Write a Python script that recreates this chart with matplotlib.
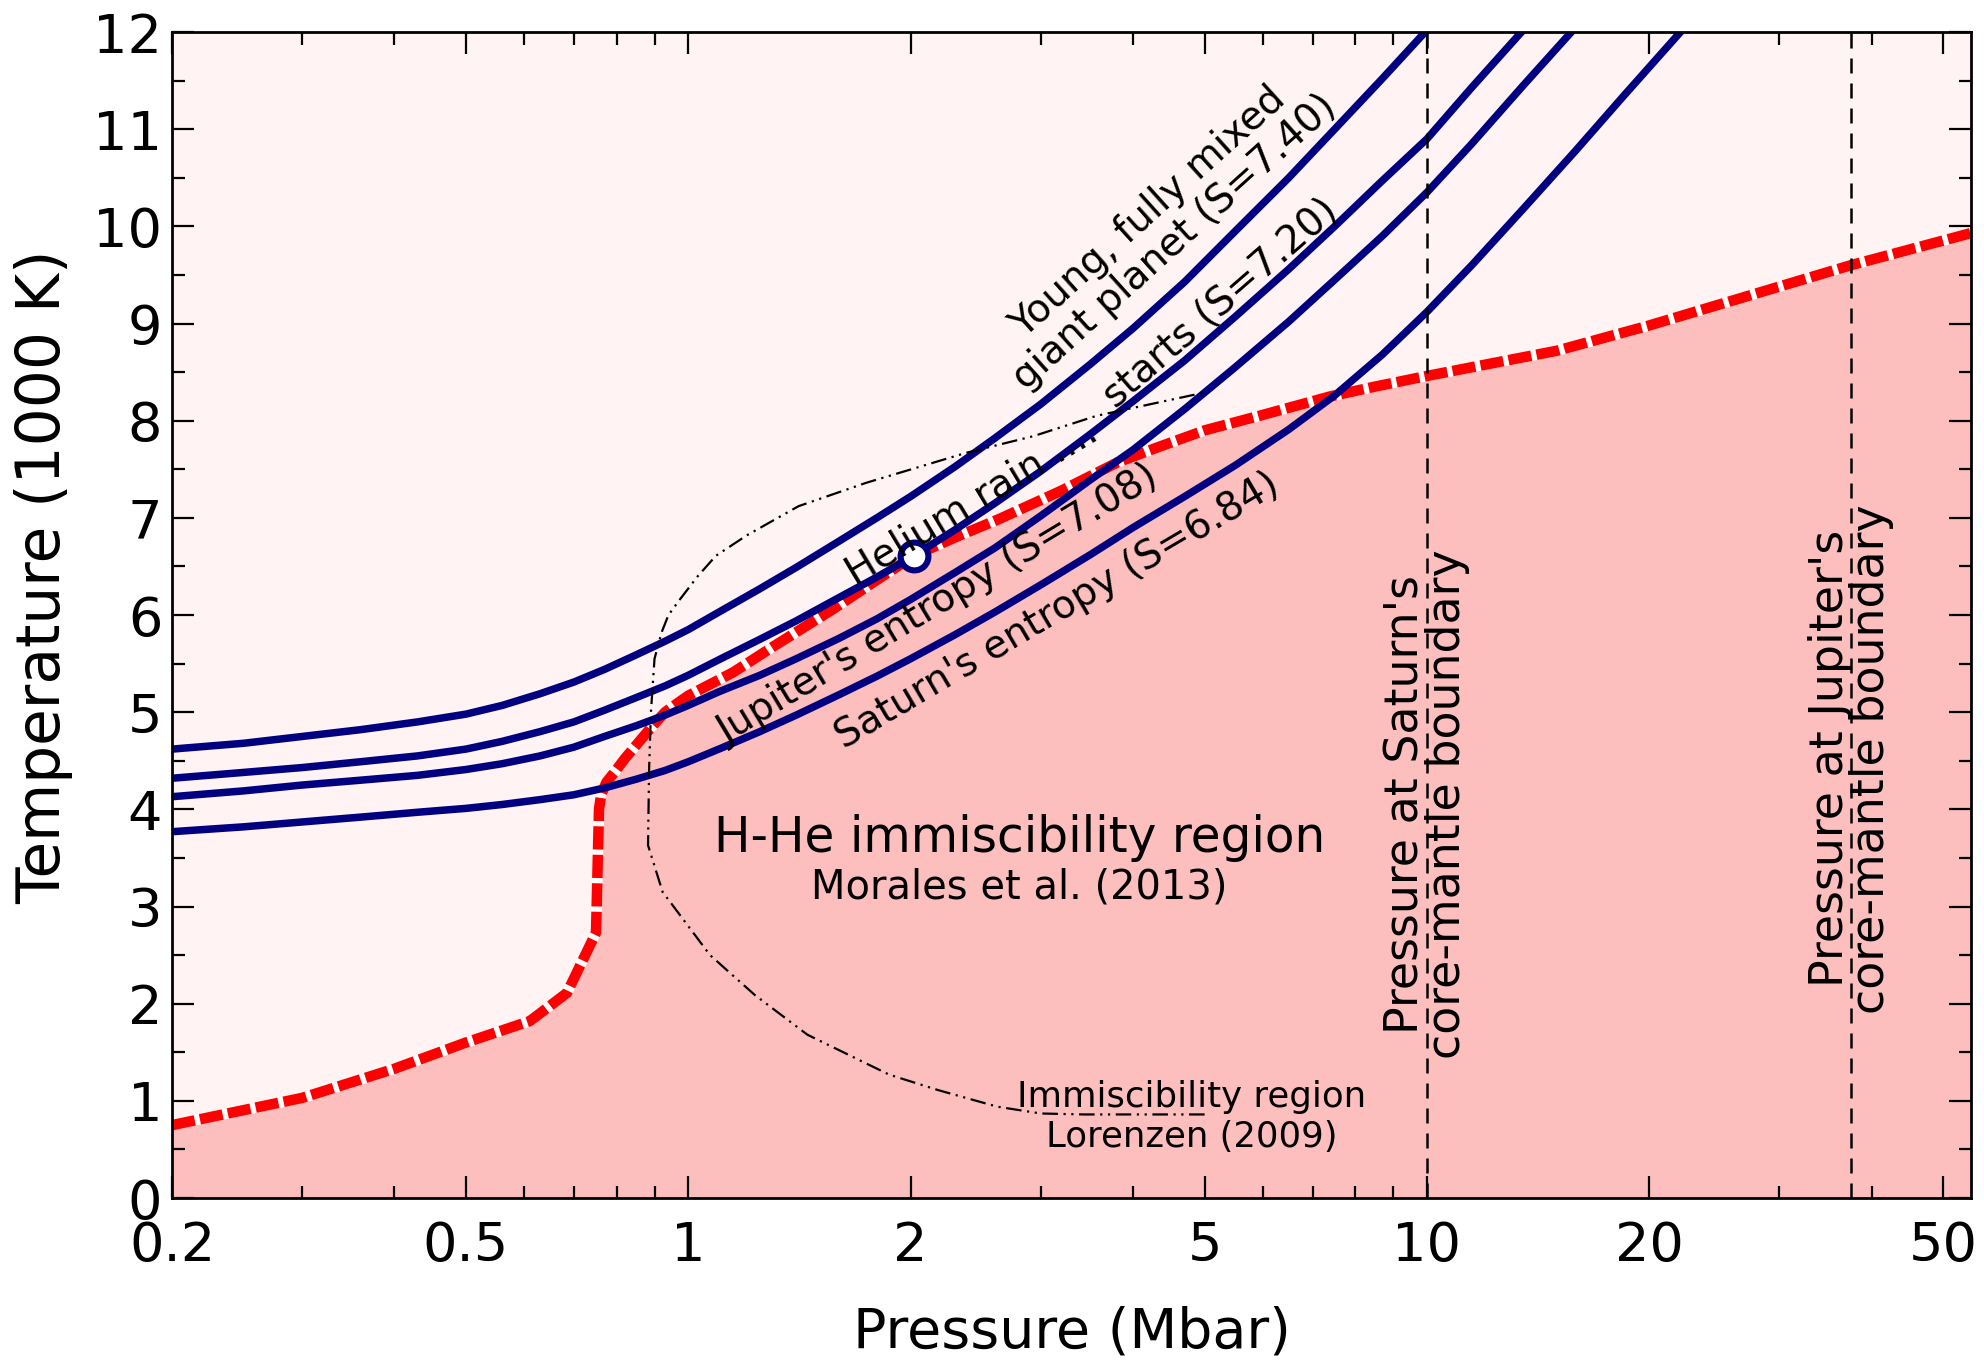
import matplotlib
matplotlib.use("Agg")
import matplotlib.pyplot as plt
from matplotlib.ticker import FixedLocator, FixedFormatter, MultipleLocator, NullFormatter

# H-He immiscibility boundary, Morales et al. (2013)  (P in Mbar, T in 1000 K)
morales_p = [0.2, 0.3, 0.4, 0.5, 0.61, 0.685, 0.75, 0.757, 0.762, 0.775, 0.798, 0.82, 0.85,
             0.89, 0.93, 0.97, 1.0, 1.15, 1.3, 1.57, 1.8, 2.02, 2.3, 2.64, 3.2, 3.81, 4.3,
             5.0, 6.0, 7.4, 8.5, 10.0, 15.0, 20.0, 37.5, 54.5]
morales_t = [0.75, 1.03, 1.33, 1.6, 1.82, 2.11, 2.73, 4.0, 4.15, 4.28, 4.40, 4.52, 4.66,
             4.84, 5.0, 5.1, 5.17, 5.41, 5.67, 6.06, 6.36, 6.61, 6.80, 6.99, 7.28, 7.57, 7.72,
             7.9, 8.06, 8.25, 8.35, 8.46, 8.72, 8.98, 9.6, 9.93]

# adiabats (S in k_B per baryon)
s740_p = [0.2, 0.25, 0.3, 0.36, 0.43, 0.5, 0.56, 0.63, 0.7, 0.77, 0.85, 0.93, 1.0, 1.1, 1.25,
          1.4, 1.6, 1.8, 2.0, 2.3, 2.6, 3.0, 3.5, 4.0, 4.7, 5.5, 6.5, 7.5, 8.7, 10.0]
s740_t = [4.62, 4.68, 4.75, 4.82, 4.90, 4.98, 5.07, 5.19, 5.31, 5.44, 5.59, 5.73, 5.85, 6.03, 6.27,
          6.49, 6.76, 7.0, 7.22, 7.53, 7.82, 8.17, 8.58, 8.95, 9.43, 9.95, 10.5, 11.0, 11.52, 12.02]

s720_p = [0.2, 0.25, 0.3, 0.36, 0.43, 0.5, 0.56, 0.63, 0.7, 0.77, 0.85, 0.93, 1.0, 1.1, 1.25,
          1.4, 1.6, 1.8, 2.0, 2.3, 2.6, 3.0, 3.5, 4.0, 4.7, 5.5, 6.5, 7.5, 8.7, 10.0, 11.5, 13.5]
s720_t = [4.32, 4.38, 4.43, 4.49, 4.55, 4.62, 4.70, 4.80, 4.90, 5.02, 5.15, 5.27, 5.38, 5.54, 5.75,
          5.94, 6.18, 6.39, 6.59, 6.88, 7.15, 7.48, 7.86, 8.2, 8.62, 9.07, 9.56, 10.0, 10.47, 10.9,
          11.43, 12.02]

s708_p = [0.2, 0.25, 0.3, 0.36, 0.43, 0.5, 0.56, 0.63, 0.7, 0.77, 0.85, 0.93, 1.0, 1.1, 1.25,
          1.4, 1.6, 1.8, 2.0, 2.3, 2.6, 3.0, 3.5, 4.0, 4.7, 5.5, 6.5, 7.5, 8.7, 10.0, 11.5, 13.5, 15.9]
s708_t = [4.13, 4.19, 4.25, 4.30, 4.35, 4.41, 4.47, 4.55, 4.64, 4.75, 4.86, 4.97, 5.07, 5.21, 5.38,
          5.55, 5.76, 5.96, 6.16, 6.44, 6.69, 7.02, 7.39, 7.70, 8.12, 8.55, 9.02, 9.45, 9.90, 10.35,
          10.85, 11.45, 12.05]

s684_p = [0.2, 0.25, 0.3, 0.36, 0.43, 0.5, 0.56, 0.63, 0.7, 0.77, 0.85, 0.93, 1.0, 1.1, 1.25,
          1.4, 1.6, 1.8, 2.0, 2.3, 2.6, 3.0, 3.5, 4.0, 4.7, 5.5, 6.5, 7.5, 8.7, 10.0, 11.5, 13.5,
          15.9, 18.5, 22.1]
s684_t = [3.77, 3.82, 3.87, 3.92, 3.97, 4.01, 4.05, 4.10, 4.15, 4.22, 4.31, 4.40, 4.49, 4.62, 4.80,
          4.97, 5.18, 5.37, 5.55, 5.80, 6.03, 6.31, 6.62, 6.90, 7.22, 7.54, 7.91, 8.26, 8.68, 9.12,
          9.60, 10.18, 10.78, 11.35, 12.01]

# Lorenzen (2009) immiscibility region
lor_p = [5.0, 3.43, 3.0, 2.62, 2.18, 1.87, 1.45, 1.23, 1.07, 0.923, 0.882, 0.885, 0.89, 0.90,
         0.92, 0.94, 0.974, 1.03, 1.09, 1.2, 1.41, 1.74, 2.38, 2.93, 3.57, 5.0]
lor_t = [0.86, 0.86, 0.87, 0.94, 1.11, 1.27, 1.68, 2.09, 2.50, 3.15, 3.63, 4.42, 5.0, 5.55,
         5.82, 6.0, 6.16, 6.40, 6.61, 6.82, 7.12, 7.36, 7.67, 7.84, 8.05, 8.29]

rain_p = [2.02]
rain_t = [6.61]

saturn_cmb = 10.0
jupiter_cmb = 37.5

xticks = [0.2, 0.5, 1, 2, 5, 10, 20, 50]
xticklabels = ["0.2", "0.5", "1", "2", "5", "10", "20", "50"]
xminor = [0.3, 0.4, 0.6, 0.7, 0.8, 0.9, 3, 4, 6, 7, 8, 9, 30, 40]

upper_bg = "#fff3f3"
lower_bg = "#fdbebe"
blue = "#000080"

fig = plt.figure(figsize=(9.92, 6.81), dpi=200)
ax = fig.add_axes([0.0867, 0.1204, 0.9067, 0.8561])
ax.set_facecolor(upper_bg)
ax.set_xscale("log")
ax.set_xlim(0.2, 54.5)
ax.set_ylim(0, 12)

ax.fill_between(morales_p, 0, morales_t, color=lower_bg, lw=0, zorder=1)
ax.plot(morales_p, morales_t, color="white", lw=3.8, zorder=2)
ax.plot(morales_p, morales_t, color="red", lw=3.8, ls=(0, (2.2, 0.5)),
        dash_capstyle="butt", zorder=3)

for p, t in [(s740_p, s740_t), (s720_p, s720_t), (s708_p, s708_t), (s684_p, s684_t)]:
    ax.plot(p, t, color=blue, lw=2.7, zorder=4)

ax.plot(lor_p, lor_t, color="black", lw=0.8, ls=(0, (7, 2.5, 1, 2.5, 1, 2.5)), zorder=5)

for xc in (saturn_cmb, jupiter_cmb):
    ax.axvline(xc, color="black", lw=0.9, ls=(0, (6, 4)), zorder=5)

ax.plot(rain_p, rain_t, "o", ms=10, mfc="white", mec=blue, mew=2.2, zorder=6)

# annotations
ax.text(4.37, 9.99, "Young, fully mixed\ngiant planet (S=7.40)", fontsize=14, rotation=42,
        rotation_mode="anchor", ha="center", va="center", linespacing=1.1, zorder=7)
ax.text(2.42, 7.16, "Helium rain ....", fontsize=14, rotation=31,
        rotation_mode="anchor", ha="center", va="center", zorder=7)
ax.text(5.26, 9.21, "starts (S=7.20)", fontsize=14, rotation=41,
        rotation_mode="anchor", ha="center", va="center", zorder=7)
ax.text(2.18, 6.11, "Jupiter's entropy (S=7.08)", fontsize=14, rotation=31,
        rotation_mode="anchor", ha="center", va="center", zorder=7)
ax.text(3.16, 6.04, "Saturn's entropy (S=6.84)", fontsize=14, rotation=30.5,
        rotation_mode="anchor", ha="center", va="center", zorder=7)

ax.text(2.81, 3.56, "H-He immiscibility region", fontsize=17.5, ha="center", va="baseline", zorder=7)
ax.text(2.81, 3.08, "Morales et al. (2013)", fontsize=14.4, ha="center", va="baseline", zorder=7)
ax.text(4.8, 0.94, "Immiscibility region", fontsize=12.8, ha="center", va="baseline", zorder=7)
ax.text(4.8, 0.53, "Lorenzen (2009)", fontsize=12.8, ha="center", va="baseline", zorder=7)

ax.text(saturn_cmb, 4.05, "Pressure at Saturn's\ncore-mantle boundary", fontsize=16.5,
        rotation=90, ha="center", va="center", linespacing=0.9, zorder=7)
ax.text(jupiter_cmb, 4.52, "Pressure at Jupiter's\ncore-mantle boundary", fontsize=16.5,
        rotation=90, ha="center", va="center", linespacing=0.9, zorder=7)

# axes, ticks
ax.xaxis.set_major_locator(FixedLocator(xticks))
ax.xaxis.set_major_formatter(FixedFormatter(xticklabels))
ax.xaxis.set_minor_locator(FixedLocator(xminor))
ax.xaxis.set_minor_formatter(NullFormatter())
ax.yaxis.set_major_locator(MultipleLocator(1))
ax.yaxis.set_minor_locator(MultipleLocator(0.5))

ax.tick_params(which="both", direction="in", top=True, right=True, width=0.8)
ax.tick_params(which="major", length=7.9, labelsize=19.5)
ax.tick_params(which="minor", length=4.5)
ax.tick_params(axis="x", which="major", pad=8)
ax.tick_params(axis="y", which="major", pad=3.5)
for sp in ax.spines.values():
    sp.set_linewidth(1.0)
    sp.set_zorder(8)

ax.set_xlabel("Pressure (Mbar)", fontsize=20, labelpad=12)
ax.set_ylabel("Temperature (1000 K)", fontsize=21.5)
ax.yaxis.set_label_coords(-0.055, 0.533)

fig.savefig("out.png", dpi=200, facecolor="white")
